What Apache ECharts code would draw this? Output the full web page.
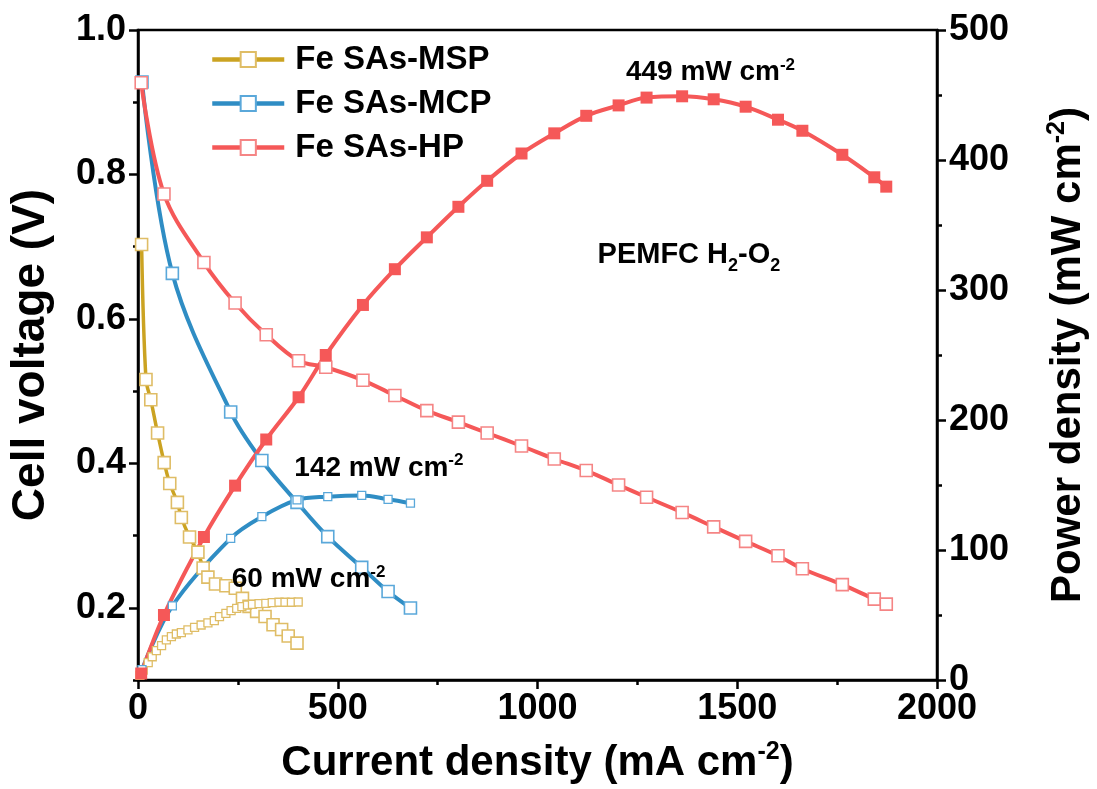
<!DOCTYPE html>
<html>
<head>
<meta charset="utf-8">
<script src="https://cdn.jsdelivr.net/npm/echarts@6/dist/echarts.min.js"></script>
<style>
  html, body { margin: 0; padding: 0; background: #fff; }
  #chart { width: 1097px; height: 789px; }
</style>
</head>
<body>
<div id="chart"></div>
<script>
// Polarization (V) and power density (mW cm-2) vs current density (mA cm-2)

// Fe SAs-HP
const hpCurrent = [8, 65, 165, 243, 321, 402, 470, 563, 643, 723, 802, 874, 960, 1042, 1122, 1203, 1273, 1362, 1441, 1521, 1602, 1663, 1763, 1843, 1873];
const hpVoltage = [0.927, 0.773, 0.678, 0.622, 0.578, 0.542, 0.533, 0.515, 0.494, 0.473, 0.457, 0.442, 0.424, 0.406, 0.390, 0.370, 0.353, 0.332, 0.312, 0.292, 0.272, 0.254, 0.232, 0.212, 0.205];
const hpPower   = [5, 50, 110, 149.5, 185, 217.5, 250, 288.5, 316, 340.5, 364, 384, 405, 420.5, 434, 442, 448, 449, 446.7, 441, 431, 422.5, 404, 386.7, 379.5];

// Fe SAs-MCP
const mcpCurrent = [10, 86, 232, 310, 398, 475, 560, 626, 682];
const mcpVoltage = [0.928, 0.663, 0.471, 0.404, 0.346, 0.2985, 0.256, 0.2225, 0.1996];
const mcpPower   = [8, 57, 109, 125.6, 138.5, 141, 142, 139, 136];

// Fe SAs-MSP
const mspCurrentV = [9, 20, 32, 49, 65.5, 79.5, 98.6, 108.5, 129, 150, 163, 175, 194, 220, 243.5, 261.5, 278, 297, 318, 338, 359.5, 376, 398];
const mspVoltage  = [0.703, 0.516, 0.488, 0.442, 0.401, 0.372, 0.346, 0.325, 0.298, 0.277, 0.255, 0.2425, 0.233, 0.2305, 0.227, 0.213, 0.202, 0.195, 0.188, 0.1765, 0.170, 0.161, 0.151];
const mspCurrentP = [5, 13, 25.6, 35.6, 46, 59, 71, 83.6, 96, 108.5, 125, 141.6, 158, 175, 191, 204, 220, 233, 247, 260, 274, 286.5, 303, 320, 336, 353, 368, 384, 401];
const mspPower    = [3.5, 7.7, 13.3, 17.9, 22.6, 26.4, 30.8, 33.3, 35.4, 36.4, 38.5, 40.5, 42.3, 44, 45.6, 48.7, 51.3, 53.3, 55.1, 56.4, 57.7, 58.2, 58.7, 59, 59.5, 59.8, 59.8, 59.8, 60];

// Axis ticks
const vMajorTicks = [0.2, 0.4, 0.6, 0.8, 1.0];
const vMinorTicks = [0.1, 0.3, 0.5, 0.7, 0.9];

const FONT = 'Liberation Sans, Arial, Helvetica, sans-serif';
const RED = '#F55858', RED_M = '#F58585';
const BLUE = '#2F8DC4', BLUE_M = '#5AA8DA';
const GOLD = '#CBA322', GOLD_M = '#DFBD66';

const pairs = (xs, ys) => xs.map((x, i) => [x, ys[i]]);

const axisLine = { show: true, lineStyle: { color: '#000', width: 2.5 } };
const tickLabel = { color: '#000', fontFamily: FONT, fontWeight: 'bold', fontSize: 36 };

function lineSeries(name, data, yIndex, color, markerBorder, opts) {
  return Object.assign({
    name: name,
    type: 'line',
    xAxisIndex: 0,
    yAxisIndex: yIndex,
    data: data,
    smooth: 0.35,
    symbol: 'rect',
    symbolSize: 12,
    showAllSymbol: true,
    lineStyle: { color: color, width: 4 },
    itemStyle: { color: '#fff', borderColor: markerBorder, borderWidth: 1.6 },
    emphasis: { disabled: true },
    animation: false
  }, opts || {});
}

const chart = echarts.init(document.getElementById('chart'), null, { renderer: 'canvas' });

const titleRich = {
  t: { fontFamily: FONT, fontWeight: 'bold', fontSize: 42, lineHeight: 44, color: '#000', verticalAlign: 'bottom' },
  s: { fontFamily: FONT, fontWeight: 'bold', fontSize: 25, lineHeight: 25, color: '#000', verticalAlign: 'top' }
};

const option = {
  backgroundColor: '#fff',
  animation: false,
  grid: {
    left: 138, right: 154, top: 30, bottom: 109,
    show: true, borderColor: '#000', borderWidth: 2.5, backgroundColor: 'transparent'
  },
  legend: {
    data: ['Fe SAs-MSP', 'Fe SAs-MCP', 'Fe SAs-HP'],
    orient: 'vertical',
    left: 205, top: 38,
    itemWidth: 72, itemHeight: 19,
    itemGap: 11,
    selectedMode: false,
    lineStyle: { width: 4.5 },
    textStyle: { color: '#000', fontFamily: FONT, fontWeight: 'bold', fontSize: 33, padding: [0, 0, 0, 6] }
  },
  xAxis: [{
    type: 'value', min: 0, max: 2000, interval: 500,
    axisLine: axisLine,
    axisTick: { show: true, inside: false, length: 9, lineStyle: { color: '#000', width: 2.5 } },
    minorTick: { show: true, splitNumber: 2, length: 5, lineStyle: { color: '#000', width: 2.5 } },
    splitLine: { show: false },
    axisLabel: Object.assign({ margin: 11, formatter: v => String(v) }, tickLabel),
    name: '{t|Current density (mA cm}{s|-2}{t|)}',
    nameLocation: 'middle', nameGap: 60,
    nameTextStyle: { rich: titleRich }
  }],
  yAxis: [{
    type: 'value', min: 0.1, max: 1.0, position: 'left',
    axisLine: axisLine,
    axisTick: { show: true, length: 9, customValues: vMajorTicks, lineStyle: { color: '#000', width: 2.5 } },
    axisLabel: Object.assign({ margin: 12, customValues: vMajorTicks, formatter: v => v.toFixed(1) }, tickLabel),
    splitLine: { show: false },
    name: 'Cell voltage (V)',
    nameLocation: 'middle', nameGap: 84, nameRotate: 90,
    nameTextStyle: { fontFamily: FONT, fontWeight: 'bold', fontSize: 46, color: '#000' }
  }, {
    type: 'value', min: 0, max: 500, interval: 100, position: 'right',
    axisLine: axisLine,
    axisTick: { show: true, length: 9, lineStyle: { color: '#000', width: 2.5 } },
    minorTick: { show: true, splitNumber: 2, length: 5, lineStyle: { color: '#000', width: 2.5 } },
    axisLabel: Object.assign({ margin: 12 }, tickLabel),
    splitLine: { show: false },
    name: '{t|Power density (mW cm}{s|-2}{t|)}',
    nameLocation: 'middle', nameGap: 108, nameRotate: 90,
    nameTextStyle: { rich: titleRich }
  }, {
    // minor ticks of the voltage axis
    type: 'value', min: 0.1, max: 1.0, position: 'left',
    axisLine: { show: false },
    axisTick: { show: true, length: 5, customValues: vMinorTicks, lineStyle: { color: '#000', width: 2.5 } },
    axisLabel: { show: false },
    splitLine: { show: false }
  }],
  series: [
    lineSeries('Fe SAs-MSP', pairs(mspCurrentV, mspVoltage), 0, GOLD, GOLD_M, { lineStyle: { color: GOLD, width: 3.5 } }),
    lineSeries('Fe SAs-MCP', pairs(mcpCurrent, mcpVoltage), 0, BLUE, BLUE_M),
    lineSeries('Fe SAs-HP', pairs(hpCurrent, hpVoltage), 0, RED, RED_M),
    lineSeries('MSP power', pairs(mspCurrentP, mspPower), 1, GOLD, GOLD_M, { symbolSize: 8, lineStyle: { color: GOLD, width: 2 }, itemStyle: { color: '#fff', borderColor: GOLD_M, borderWidth: 1.3 } }),
    lineSeries('MCP power', pairs(mcpCurrent, mcpPower), 1, BLUE, BLUE_M, { symbolSize: 8, itemStyle: { color: '#fff', borderColor: BLUE_M, borderWidth: 1.3 } }),
    lineSeries('HP power', pairs(hpCurrent, hpPower), 1, RED, RED, { symbolSize: 12, itemStyle: { color: RED, borderColor: RED, borderWidth: 0 } })
  ]
};

chart.setOption(option);

// Annotations anchored in data coordinates (current, power)
const supRich = {
  t: { fontFamily: FONT, fontWeight: 'bold', fontSize: 28, lineHeight: 30, color: '#000', verticalAlign: 'bottom' },
  s: { fontFamily: FONT, fontWeight: 'bold', fontSize: 17, lineHeight: 17, color: '#000', verticalAlign: 'top' }
};
const subRich = {
  t: { fontFamily: FONT, fontWeight: 'bold', fontSize: 29, lineHeight: 29, color: '#000', verticalAlign: 'top' },
  b: { fontFamily: FONT, fontWeight: 'bold', fontSize: 18, lineHeight: 35, color: '#000', verticalAlign: 'bottom' }
};
const notes = [
  { at: [1433, 468], text: '{t|449 mW cm}{s|-2}', rich: supRich },
  { at: [603, 164], text: '{t|142 mW cm}{s|-2}', rich: supRich },
  { at: [427, 78], text: '{t|60 mW cm}{s|-2}', rich: supRich },
  { at: [1379, 325], text: '{t|PEMFC H}{b|2}{t|-O}{b|2}', rich: subRich }
];
chart.setOption({
  graphic: notes.map(n => {
    const p = chart.convertToPixel({ xAxisIndex: 0, yAxisIndex: 1 }, n.at);
    return {
      type: 'text', x: p[0], y: p[1], z: 100,
      style: { text: n.text, rich: n.rich, align: 'center', verticalAlign: 'middle' }
    };
  })
});
</script>
</body>
</html>
